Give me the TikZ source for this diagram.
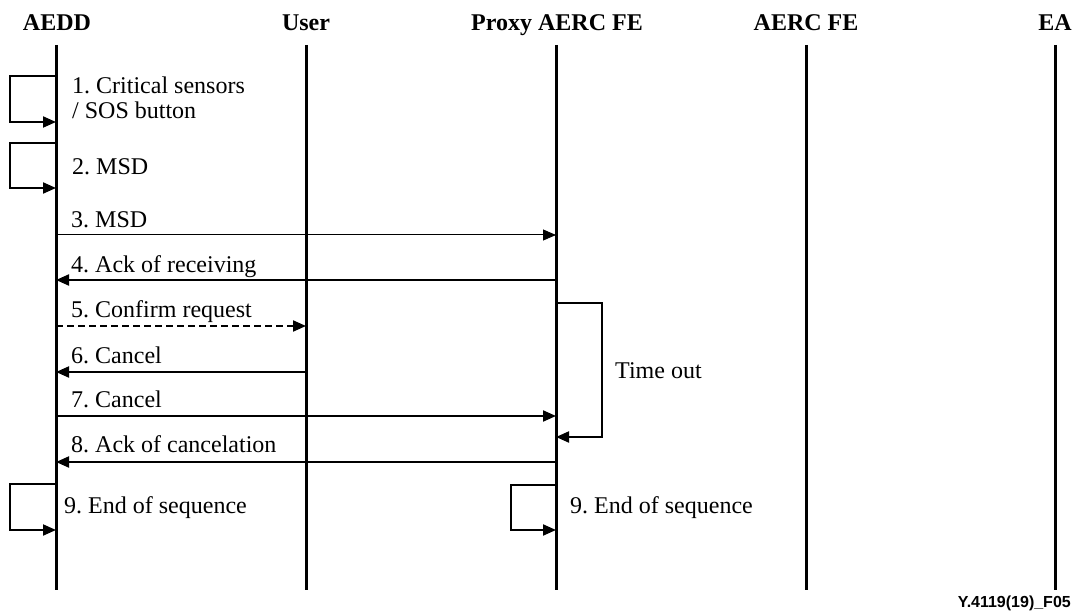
\documentclass[tikz,border=0pt]{standalone}
\usepackage{fontspec}
\setmainfont{Liberation Serif}
\newfontfamily\footfont{Liberation Sans}
\usetikzlibrary{arrows.meta}
\frenchspacing
\begin{document}
\begin{tikzpicture}[x=1pt,y=-1pt,
  head/.style={font=\fontsize{24}{26}\selectfont\bfseries, anchor=base, inner sep=0pt},
  lbl/.style={font=\fontsize{24}{26}\selectfont, anchor=base west, inner sep=0pt, align=left},
  life/.style={line width=3pt},
  tip/.style={-{Triangle[length=13pt,width=11pt]}},
  msg/.style={line width=2pt, tip},
  thinmsg/.style={line width=1pt, tip},
  dmsg/.style={line width=2pt, dash pattern=on 7pt off 4pt, tip},
  loopmsg/.style={line width=2pt, tip}]
\useasboundingbox (0,0) rectangle (1075,612);
% headers
\node[head] (hA) at (57,31) {AEDD};
\node[head] (hU) at (306,31) {User};
\node[head] (hP) at (557,31) {Proxy AERC FE};
\node[head] (hR) at (806,31) {AERC FE};
\node[head] (hE) at (1055,31) {EA};
% lifelines
\coordinate (At) at (56,45); \coordinate (Ab) at (56,590);
\coordinate (Ut) at (306,45); \coordinate (Ub) at (306,590);
\coordinate (Pt) at (556,45); \coordinate (Pb) at (556,590);
\coordinate (Rt) at (806,45); \coordinate (Rb) at (806,590);
\coordinate (Et) at (1055,45); \coordinate (Eb) at (1055,590);
\draw[life] (At) -- (Ab);
\draw[life] (Ut) -- (Ub);
\draw[life] (Pt) -- (Pb);
\draw[life] (Rt) -- (Rb);
\draw[life] (Et) -- (Eb);
% 1 self loop
\coordinate (a1s) at (56,76); \coordinate (a1e) at (56,122);
\draw[loopmsg] (a1s) -- (10,76) -- (10,122) -- (a1e);
\node[lbl] (l1) at (72,94) {1. Critical sensors};
\node[lbl] (l1b) at (72,119) {/ SOS button};
% 2 self loop
\coordinate (a2s) at (56,143); \coordinate (a2e) at (56,188);
\draw[loopmsg] (a2s) -- (10,143) -- (10,188) -- (a2e);
\node[lbl] (l2) at (72,175) {2. MSD};
% 3
\coordinate (a3) at (56,235); \coordinate (p3) at (556,235);
\draw[thinmsg] (a3) -- (p3);
\node[lbl] (l3) at (71,228) {3. MSD};
% 4
\coordinate (a4) at (56,280); \coordinate (p4) at (556,280);
\draw[msg] (p4) -- (a4);
\node[lbl] (l4) at (71,272) {4. Ack of receiving};
% 5
\coordinate (a5) at (56,326); \coordinate (u5) at (306,326);
\draw[dmsg] (a5) -- (u5);
\node[lbl] (l5) at (71,317) {5. Confirm request};
% 6
\coordinate (a6) at (56,372); \coordinate (u6) at (306,372);
\draw[msg] (u6) -- (a6);
\node[lbl] (l6) at (71,363) {6. Cancel};
% 7
\coordinate (a7) at (56,416); \coordinate (p7) at (556,416);
\draw[msg] (a7) -- (p7);
\node[lbl] (l7) at (71,407) {7. Cancel};
% 8
\coordinate (a8) at (56,462); \coordinate (p8) at (556,462);
\draw[msg] (p8) -- (a8);
\node[lbl] (l8) at (71,452) {8. Ack of cancelation};
% time out loop
\coordinate (pts) at (556,303); \coordinate (pte) at (556,437);
\draw[loopmsg] (pts) -- (602,303) -- (602,437) -- (pte);
\node[lbl] (lt) at (615,378) {Time out};
% 9 self loops
\coordinate (a9s) at (56,484); \coordinate (a9e) at (56,530);
\draw[loopmsg] (a9s) -- (10,484) -- (10,530) -- (a9e);
\node[lbl] (l9a) at (64,513) {9. End of sequence};
\coordinate (p9s) at (556,485); \coordinate (p9e) at (556,530);
\draw[loopmsg] (p9s) -- (511,485) -- (511,530) -- (p9e);
\node[lbl] (l9p) at (570,513) {9. End of sequence};
% footer
\node[font=\footfont\fontsize{16}{18}\selectfont\bfseries, anchor=base east, inner sep=0pt] (foot) at (1071,607) {Y.4119(19)\_F05};
\end{tikzpicture}
\end{document}
